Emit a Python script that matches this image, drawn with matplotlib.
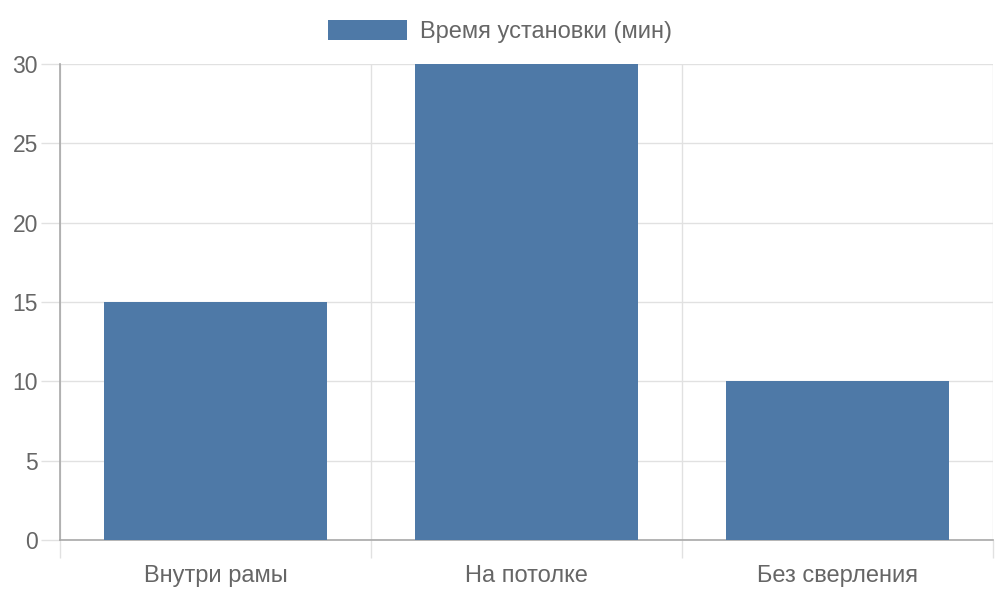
import matplotlib.pyplot as plt
from matplotlib.ticker import FixedLocator

categories = ["Внутри рамы", "На потолке", "Без сверления"]
values = [15, 30, 10]
series_label = "Время установки (мин)"
y_ticks = [0, 5, 10, 15, 20, 25, 30]

BAR = "#4e79a7"
TEXT = "#666666"
GRID = "#e1e1e1"
AXIS = "#a8a8a8"

plt.rcParams["font.family"] = ["Liberation Sans", "DejaVu Sans"]

fig = plt.figure(figsize=(10, 6), dpi=100)
ax = fig.add_axes([0.06, 0.10, 0.933, 0.7933])

x = list(range(len(categories)))
ax.bar(x, values, width=0.72, color=BAR, label=series_label, zorder=3)

ax.set_xlim(-0.5, len(categories) - 0.5)
ax.set_ylim(0, 30)
ax.set_yticks(y_ticks)
ax.set_xticks(x)
ax.set_xticklabels(categories)
ax.xaxis.set_minor_locator(FixedLocator([i - 0.5 for i in range(len(categories) + 1)]))

ax.grid(True, axis="y", color=GRID, linewidth=1, zorder=0)
ax.grid(True, axis="x", which="minor", color=GRID, linewidth=1, zorder=0)

ax.tick_params(axis="x", which="major", length=0, pad=18, labelsize=17, labelcolor=TEXT)
ax.tick_params(axis="x", which="minor", length=13, width=1, color=GRID)
ax.tick_params(axis="y", length=14, width=1, color=GRID, pad=2, labelsize=16.5, labelcolor=TEXT)

for side in ["top", "right"]:
    ax.spines[side].set_visible(False)
for side in ["left", "bottom"]:
    ax.spines[side].set_color(AXIS)
    ax.spines[side].set_linewidth(1.2)

leg = fig.legend(loc="center", bbox_to_anchor=(0.5, 1 - 31.5 / 600), frameon=False,
                 handlelength=3.35, handleheight=0.97, handletextpad=0.55,
                 borderpad=0, prop={"size": 17})
for t in leg.get_texts():
    t.set_color(TEXT)

fig.savefig("out.png")
